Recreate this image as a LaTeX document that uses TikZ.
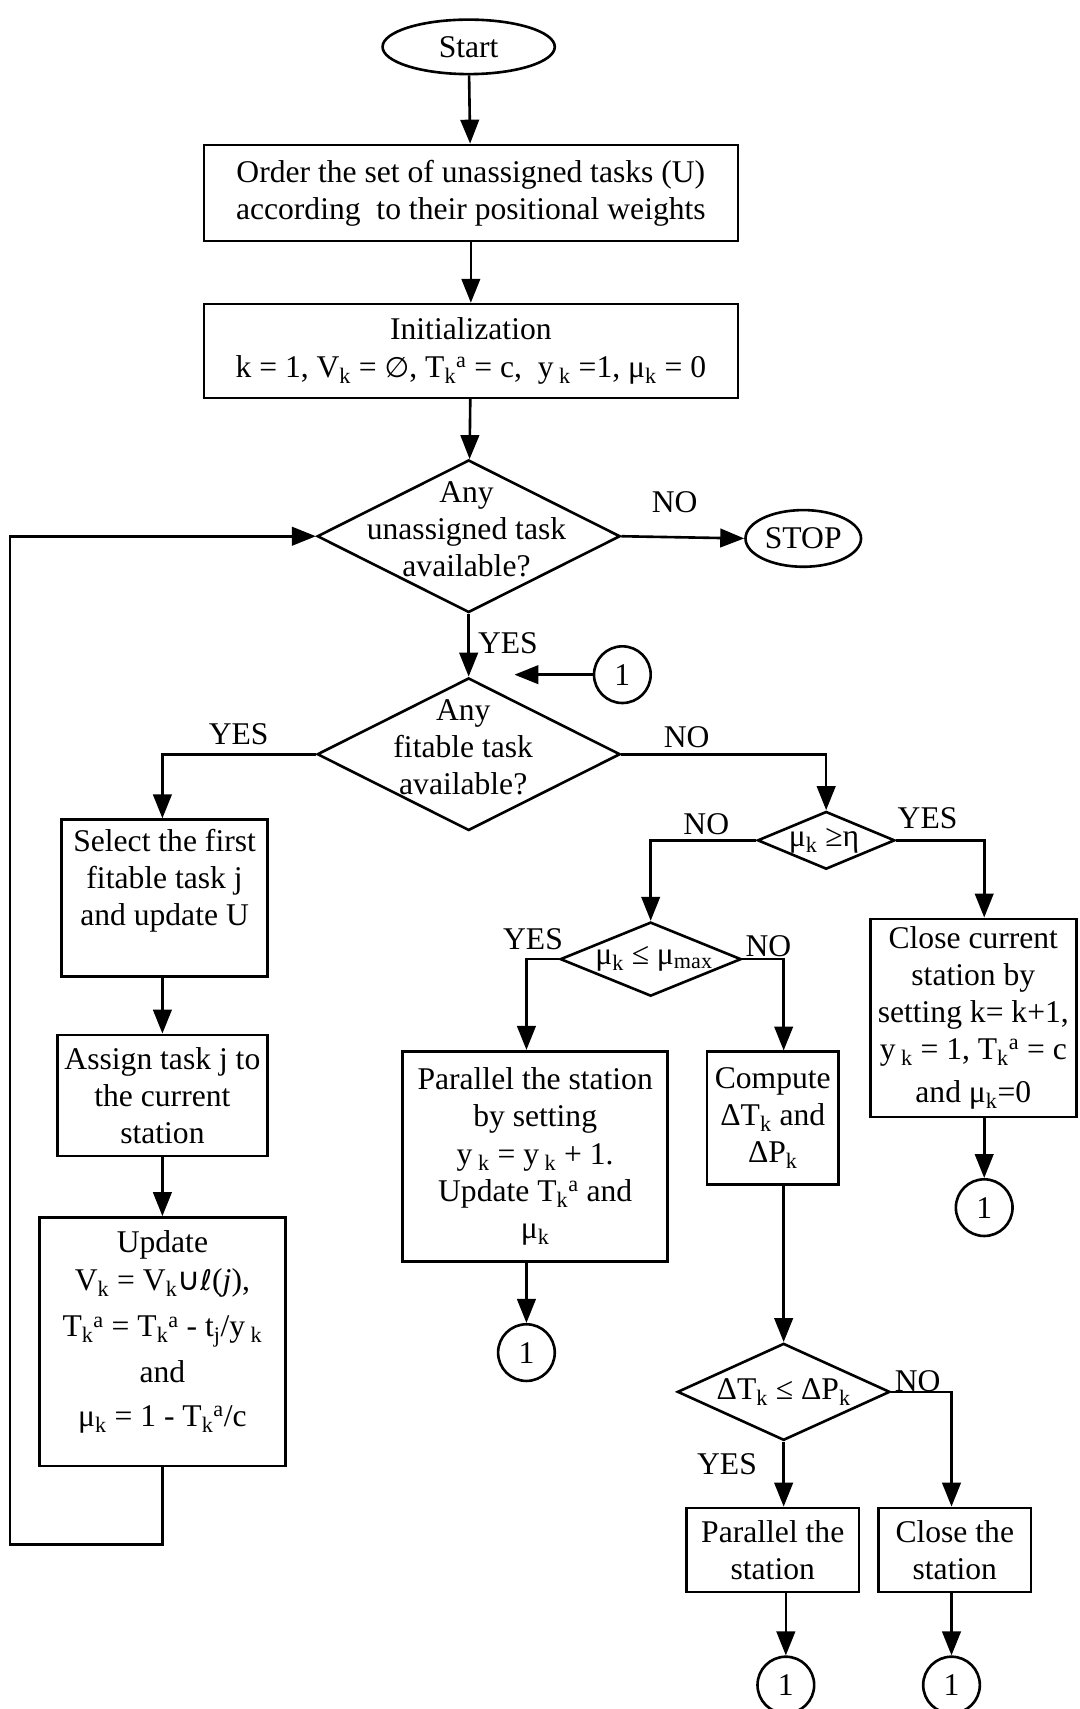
\documentclass[tikz,border=0pt]{standalone}
\usepackage{fontspec}
\setmainfont{Liberation Serif}
\newfontfamily\symf{DejaVu Sans}
\usetikzlibrary{shapes.geometric,arrows.meta}
\newcommand{\sbk}{\textsubscript{k}}
\newcommand{\spa}{\textsuperscript{a}}
\newcommand{\Tka}{T\sbk\spa}
\newcommand{\muk}{μ\sbk}

\begin{document}
\begin{tikzpicture}[x=1pt,y=-1pt,line width=2.4pt,font=\fontsize{29}{34}\selectfont,
    box/.style={draw,rectangle,align=center,inner sep=0pt},
    decision/.style={draw,diamond,inner sep=0pt},
    term/.style={draw,ellipse,inner sep=0pt},
    conn/.style={draw,circle,minimum size=52pt,inner sep=0pt},
    lbl/.style={inner sep=0pt,align=center},
    arr/.style={-{Triangle[length=22pt,width=17pt]}}]
    \useasboundingbox (0,0) rectangle (990,1568);

    % Main column
    \node[term,minimum width=158pt,minimum height=50pt] (start) at (430,43) {Start};
    \node[box,minimum width=490pt,minimum height=88pt] (order) at (432,177) {Order the set of unassigned tasks (U)\\according\ \ to their positional weights};
    \node[box,minimum width=490pt,minimum height=86pt] (init) at (432,322) {Initialization\\k = 1, V\sbk{} = {\symf\fontsize{26}{30}\selectfont ∅}, \Tka{} = c,\ \ y\textsubscript{ k} =1, \muk{} = 0};
    \node[decision,minimum width=278pt,minimum height=140pt] (anyU) at (430,492) {};
    \node[lbl] (anyU-t) at (428,486) {Any\\unassigned task\\available?};
    \node[term,minimum width=106pt,minimum height=52pt] (stop) at (737,494) {STOP};
    \node[decision,minimum width=278pt,minimum height=140pt] (anyF) at (430,692) {};
    \node[lbl] (anyF-t) at (425,686) {Any\\fitable task\\available?};
    \node[conn] (c1a) at (571,619) {1};
    \coordinate (c1in) at (472,619);

    \draw[arr] (start) -- (order);
    \draw[arr] (order) -- (init);
    \draw[arr] (init) -- (anyU);
    \draw[arr] (anyU.east) -- (stop.west);
    \draw[arr] (anyU.south) -- (anyF.north);
    \draw[arr] (c1a) -- (c1in);
    \node[lbl] (noStop) at (619,461) {NO};
    \node[lbl] (yesU) at (466,590) {YES};

    % Left branch: assign a fitable task
    \node[box,minimum width=189pt,minimum height=144pt,text depth=38pt] (select) at (151,824) {Select the first\\fitable task j\\and update U};
    \node[box,minimum width=193pt,minimum height=111pt] (assign) at (149,1005) {Assign task j to\\the current\\station};
    \node[box,minimum width=226pt,minimum height=228pt,text depth=24pt] (update) at (149,1231) {Update\\V\sbk{} = V\sbk{\symf ∪}{\symf\fontsize{26}{30}\selectfont ℓ}(\textit{j}),\\[9pt]\Tka{} = \Tka{} - t\textsubscript{j}/y\textsubscript{ k}\\[8pt]and\\[6pt]\muk{} = 1 - T\sbk\spa/c};
    \coordinate (loopB) at (9,1417);

    \draw[arr] (anyF.west) -| (select.north -| update);
    \draw[arr] (select.south -| update) -- (assign.north);
    \draw[arr] (assign.south) -- (update.north);
    \draw[arr] (update.south) |- (loopB) |- (anyU.west);
    \node[lbl] (yesF) at (219,674) {YES};

    % Right branch: no fitable task
    \node[decision,minimum width=126pt,minimum height=53pt] (muEta) at (758,771) {};
    \node[lbl] (muEta-t) at (756,771) {\muk{} ≥η};
    \node[decision,minimum width=166pt,minimum height=68pt] (muMax) at (597,880) {};
    \node[lbl] (muMax-t) at (600,880) {\muk{} ≤ μ\textsubscript{max}};
    \node[box,minimum width=189pt,minimum height=182pt] (closeCur) at (893,934) {Close current\\station by\\setting k= k+1,\\y\textsubscript{ k} = 1, \Tka{} = c\\[6pt]and \muk=0};
    \node[conn] (c1d) at (903,1108) {1};
    \node[box,minimum width=243pt,minimum height=193pt] (parSet) at (491,1061) {Parallel the station\\by setting\\y\textsubscript{ k} = y\textsubscript{ k} + 1.\\Update \Tka{} and\\\muk};
    \node[conn] (c1b) at (483,1241) {1};
    \node[box,minimum width=121pt,minimum height=122pt] (compute) at (709,1026) {Compute\\ΔT\sbk{} and\\ΔP\sbk};

    \draw[arr] (anyF.east) -| (muEta.north);
    \draw[arr] (muEta.west) -| (muMax.north);
    \draw[arr] (muEta.east) -| (closeCur.north -| c1d);
    \draw[arr] (closeCur.south -| c1d) -- (c1d);
    \draw[arr] (muMax.west) -| (parSet.north -| c1b);
    \draw[arr] (parSet.south -| c1b) -- (c1b);
    \node[lbl] (noF) at (630,676) {NO};
    \node[lbl] (noEta) at (648,756) {NO};
    \node[lbl] (yesEta) at (851,751) {YES};
    \node[lbl] (yesMax) at (489,862) {YES};
    \node[lbl] (noMax) at (705,868) {NO};

    % Compare time and cost
    \node[decision,minimum width=195pt,minimum height=89pt] (dTP) at (719,1277) {};
    \node[lbl] (dTP-t) at (719,1277) {ΔT\sbk{} ≤ ΔP\sbk};
    \node[box,minimum width=158pt,minimum height=77pt] (parSt) at (709,1422) {Parallel the\\station};
    \node[box,minimum width=140pt,minimum height=77pt] (closeSt) at (876,1422) {Close the\\station};
    \node[conn] (c1c) at (721,1546) {1};
    \node[conn] (c1e) at (873,1546) {1};

    \draw[arr] (compute.south -| dTP) -- (dTP.north);
    \draw[arr] (muMax.east) -| (compute.north -| dTP);
    \draw[arr] (dTP.south) -- (dTP.south |- parSt.north);
    \draw[arr] (dTP.east) -| (closeSt.north -| c1e);
    \draw[arr] (parSt.south -| c1c) -- (c1c);
    \draw[arr] (closeSt.south -| c1e) -- (c1e);
    \node[lbl] (noTP) at (842,1267) {NO};
    \node[lbl] (yesTP) at (667,1343) {YES};
\end{tikzpicture}
\end{document}
